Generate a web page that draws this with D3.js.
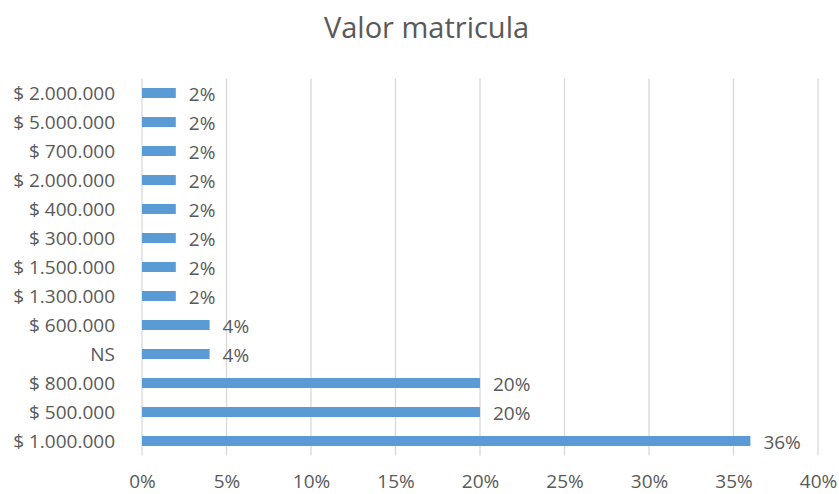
<!DOCTYPE html>
<html>
<head>
<meta charset="utf-8">
<script src="https://cdn.jsdelivr.net/npm/d3@7"></script>
<style>
  html, body { margin: 0; padding: 0; background: #ffffff; }
  svg { display: block; font-family: "Open Sans", sans-serif; }
</style>
</head>
<body>
<svg id="chart" width="839" height="494"></svg>
<script>
const title = "Valor matricula";
const categories = ["$ 2.000.000", "$ 5.000.000", "$ 700.000", "$ 2.000.000 ", "$ 400.000", "$ 300.000",
  "$ 1.500.000", "$ 1.300.000", "$ 600.000", "NS", "$ 800.000", "$ 500.000", "$ 1.000.000"];
const values = [2, 2, 2, 2, 2, 2, 2, 2, 4, 4, 20, 20, 36];
const xTicks = [0, 5, 10, 15, 20, 25, 30, 35, 40];

const svg = d3.select("#chart");
const textColor = "#595959";
const barColor = "#5B9BD5";

const x = d3.scaleLinear().domain([0, 40]).range([142, 818]);
const y = d3.scaleBand().domain(categories).range([78.5, 455.5]).paddingInner(0.655).paddingOuter(0.3275);

// title
svg.append("text")
  .attr("x", 426.5).attr("y", 38)
  .attr("text-anchor", "middle")
  .attr("font-size", 29).attr("fill", textColor)
  .text(title);

// gridlines
svg.append("g").selectAll("line").data(xTicks).join("line")
  .attr("x1", d => x(d)).attr("x2", d => x(d))
  .attr("y1", 78.5).attr("y2", 455.5)
  .attr("stroke", "#D9D9D9").attr("stroke-width", 1.3);

// x axis labels
const xAxis = d3.axisBottom(x).tickValues(xTicks).tickFormat(d => d + "%").tickSize(0).tickPadding(0);
const gx = svg.append("g").attr("transform", "translate(0,474)").call(xAxis);
gx.select(".domain").remove();
gx.selectAll("text").attr("font-size", 19).attr("fill", textColor)
  .attr("font-family", "Open Sans, sans-serif").attr("dy", null).attr("y", 14);

// y axis labels
const yAxis = d3.axisLeft(y).tickSize(0).tickPadding(0);
const gy = svg.append("g").attr("transform", "translate(115,0)").call(yAxis);
gy.select(".domain").remove();
gy.selectAll("text").attr("font-size", 19).attr("fill", textColor)
  .attr("font-family", "Open Sans, sans-serif").attr("dy", "0.36em");

// bars
svg.append("g").selectAll("rect").data(values).join("rect")
  .attr("x", x(0))
  .attr("y", (d, i) => y(categories[i]))
  .attr("width", d => x(d) - x(0))
  .attr("height", y.bandwidth())
  .attr("fill", barColor);

// data labels
svg.append("g").selectAll("text").data(values).join("text")
  .attr("x", d => x(d) + 13)
  .attr("y", (d, i) => y(categories[i]) + y.bandwidth() / 2 + 8)
  .attr("font-size", 19).attr("fill", textColor)
  .text(d => d + "%");
</script>
</body>
</html>
